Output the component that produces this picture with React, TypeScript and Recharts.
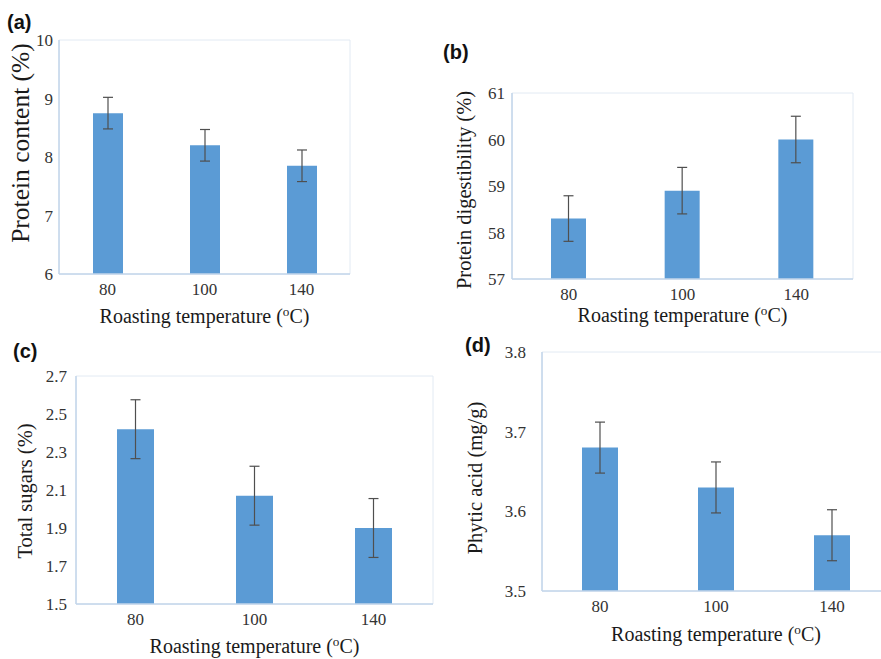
import { BarChart, Bar, XAxis, YAxis, ErrorBar, ReferenceArea } from 'recharts';

// roasting temperatures (°C)
const temps = ['80', '100', '140'];

// (a) protein content
const proteinContent = [8.75, 8.2, 7.85];
const proteinContentErr = [0.27, 0.27, 0.27];
const proteinTicks = [6, 7, 8, 9, 10];

// (b) protein digestibility
const digestibility = [58.3, 58.9, 60.0];
const digestibilityErr = [0.49, 0.5, 0.5];
const digestibilityTicks = [57, 58, 59, 60, 61];

// (c) total sugars
const totalSugars = [2.42, 2.07, 1.9];
const totalSugarsErr = [0.155, 0.155, 0.155];
const sugarTicks = [1.5, 1.7, 1.9, 2.1, 2.3, 2.5, 2.7];

// (d) phytic acid
const phyticAcid = [3.68, 3.63, 3.57];
const phyticAcidErr = [0.032, 0.032, 0.032];
const phyticTicks = [3.5, 3.6, 3.7, 3.8];

const BAR = '#5b9bd5';
const ERR = '#4f4f4f';
const AXIS = '#c3d6ea';
const FRAME = '#e2eaf3';
const TICK = '#333333';
const TEXT = '#1a1a1a';
const SERIF = '"Liberation Serif", "Times New Roman", serif';

type PanelProps = {
  tag: string;
  tagPos: { left: number; top: number };
  title: string;
  values: number[];
  errors: number[];
  ticks: number[];
  digits: number;
  left: number;
  top: number;
  width: number;
  height: number;
  margin: { top: number; right: number; bottom: number; left: number };
  yWidth: number;
  barSize: number;
  yTitleSize: number;
  yTitleX: number;
  yTitleDy: number;
  xTitleGap: number;
  xTickGap: number;
  yTickGap: number;
};

const yTitle = (text: string, size: number, cxLocal: number, dy: number) => (props: any) => {
  const vb = props.viewBox || {};
  const cx = (vb.x ?? 0) + cxLocal;
  const cy = (vb.y ?? 0) + (vb.height ?? 0) / 2 + dy;
  return (
    <text
      x={cx}
      y={cy}
      transform={`rotate(-90 ${cx} ${cy})`}
      textAnchor="middle"
      dominantBaseline="central"
      fontSize={size}
      fontFamily={SERIF}
      fill={TEXT}
    >
      {text}
    </text>
  );
};

const xTitle = (size: number, gap: number) => (props: any) => {
  const vb = props.viewBox || {};
  const cx = (vb.x ?? 0) + (vb.width ?? 0) / 2;
  const cy = (vb.y ?? 0) + gap;
  return (
    <text x={cx} y={cy} textAnchor="middle" fontSize={size} fontFamily={SERIF} fill={TEXT}>
      <tspan>Roasting temperature (</tspan>
      <tspan dy={-size * 0.36} fontSize={size * 0.66}>o</tspan>
      <tspan dy={size * 0.36}>C)</tspan>
    </text>
  );
};

const xTick = (props: any) => (
  <text x={props.x} y={props.y} dy="0.71em" textAnchor="middle" fontSize={17} fontFamily={SERIF} fill={TICK}>
    {props.payload.value}
  </text>
);

const yTick = (digits: number) => (props: any) => (
  <text x={props.x} y={props.y} dy="0.355em" textAnchor="end" fontSize={17} fontFamily={SERIF} fill={TICK}>
    {Number(props.payload.value).toFixed(digits)}
  </text>
);

function Panel(p: PanelProps) {
  const data = temps.map((t, i) => ({ t, v: p.values[i], err: p.errors[i] }));
  const lo = p.ticks[0];
  const hi = p.ticks[p.ticks.length - 1];
  return (
    <>
      <div
        style={{
          position: 'absolute',
          left: p.tagPos.left,
          top: p.tagPos.top,
          font: 'bold 20px "Liberation Sans", Arial, sans-serif',
          lineHeight: '20px',
          color: '#111',
        }}
      >
        {p.tag}
      </div>
      <div style={{ position: 'absolute', left: p.left, top: p.top }}>
        <BarChart width={p.width} height={p.height} data={data} margin={p.margin}>
          <ReferenceArea y1={lo} y2={hi} fill="none" stroke={FRAME} strokeWidth={1} ifOverflow="visible" />
          <XAxis
            dataKey="t"
            height={30}
            tickLine={false}
            tickSize={0}
            tickMargin={p.xTickGap}
            axisLine={{ stroke: AXIS, strokeWidth: 1.5 }}
            tick={xTick}
            label={xTitle(20, p.xTitleGap)}
          />
          <YAxis
            width={p.yWidth}
            domain={[lo, hi]}
            ticks={p.ticks}
            interval={0}
            tickLine={false}
            tickSize={0}
            tickMargin={p.yTickGap}
            axisLine={{ stroke: AXIS, strokeWidth: 1.5 }}
            tick={yTick(p.digits)}
            label={yTitle(p.title, p.yTitleSize, p.yTitleX, p.yTitleDy)}
          />
          <Bar dataKey="v" fill={BAR} barSize={p.barSize} isAnimationActive={false}>
            <ErrorBar dataKey="err" width={5} stroke={ERR} strokeWidth={1.2} direction="y" />
          </Bar>
        </BarChart>
      </div>
    </>
  );
}

export default function App() {
  return (
    <div
      style={{
        position: 'absolute',
        left: 0,
        top: 0,
        width: 881,
        height: 659,
        overflow: 'hidden',
        background: '#fff',
      }}
    >
      <Panel
        tag="(a)"
        tagPos={{ left: 7, top: 12 }}
        title="Protein content (%)"
        values={proteinContent}
        errors={proteinContentErr}
        ticks={proteinTicks}
        digits={0}
        left={0}
        top={0}
        width={360}
        height={330}
        margin={{ top: 40, right: 10, bottom: 26, left: 0 }}
        yWidth={59}
        barSize={30}
        yTitleSize={25.5}
        yTitleX={20}
        yTitleDy={-14}
        xTitleGap={49}
        xTickGap={9}
        yTickGap={6}
      />
      <Panel
        tag="(b)"
        tagPos={{ left: 443, top: 42 }}
        title="Protein digestibility (%)"
        values={digestibility}
        errors={digestibilityErr}
        ticks={digestibilityTicks}
        digits={0}
        left={430}
        top={40}
        width={450}
        height={300}
        margin={{ top: 53, right: 27, bottom: 31, left: 0 }}
        yWidth={82}
        barSize={35}
        yTitleSize={20.5}
        yTitleX={34}
        yTitleDy={4}
        xTitleGap={43}
        xTickGap={9}
        yTickGap={7}
      />
      <Panel
        tag="(c)"
        tagPos={{ left: 13, top: 341 }}
        title="Total sugars (%)"
        values={totalSugars}
        errors={totalSugarsErr}
        ticks={sugarTicks}
        digits={1}
        left={0}
        top={340}
        width={440}
        height={319}
        margin={{ top: 36, right: 7, bottom: 25, left: 0 }}
        yWidth={76}
        barSize={37}
        yTitleSize={20.5}
        yTitleX={25}
        yTitleDy={1}
        xTitleGap={49}
        xTickGap={8.5}
        yTickGap={9}
      />
      <Panel
        tag="(d)"
        tagPos={{ left: 465, top: 335 }}
        title="Phytic acid (mg/g)"
        values={phyticAcid}
        errors={phyticAcidErr}
        ticks={phyticTicks}
        digits={1}
        left={440}
        top={330}
        width={460}
        height={329}
        margin={{ top: 22, right: 10, bottom: 38, left: 0 }}
        yWidth={102}
        barSize={36}
        yTitleSize={20.5}
        yTitleX={35}
        yTitleDy={6.5}
        xTitleGap={50}
        xTickGap={8.5}
        yTickGap={16}
      />
    </div>
  );
}
